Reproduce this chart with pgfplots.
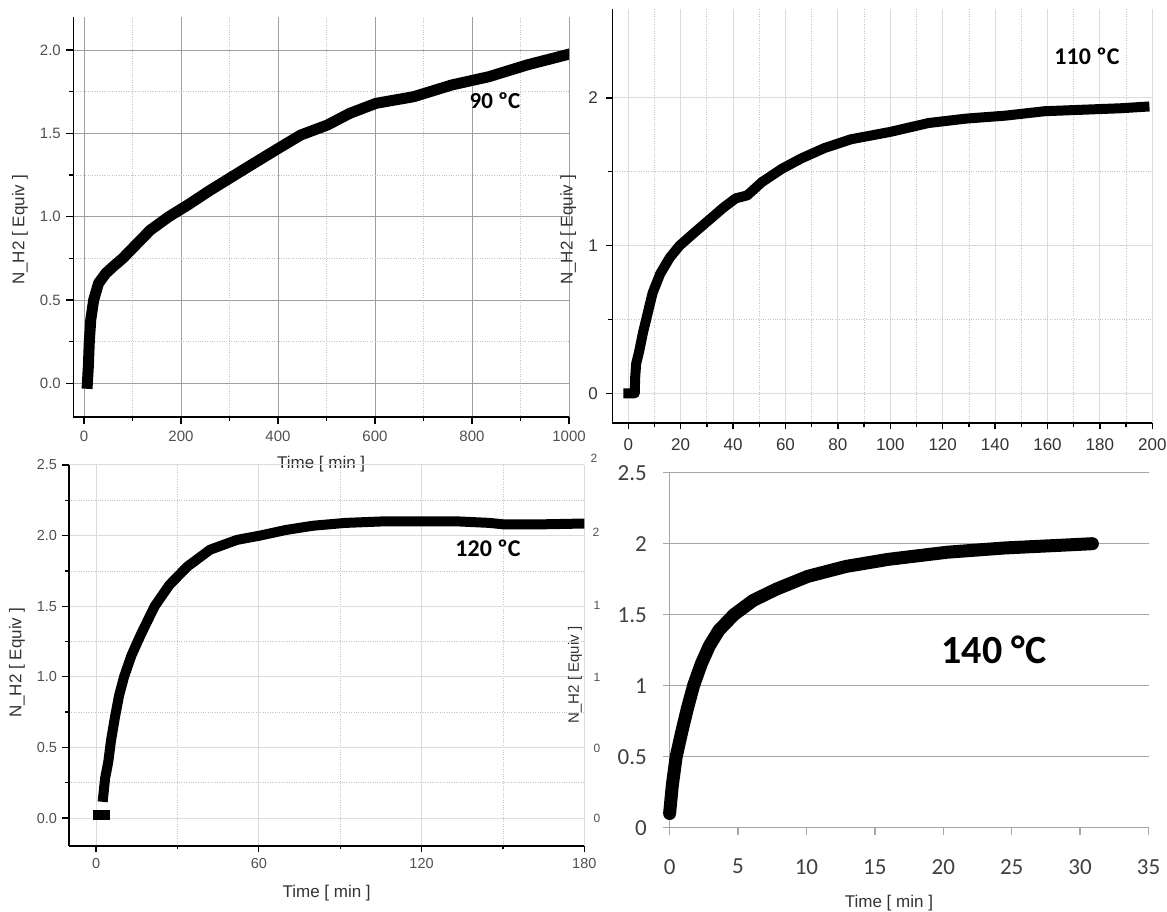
\documentclass[border=0pt]{standalone}
\usepackage{fontspec}
\setmainfont{Liberation Sans}
\newfontfamily\calibri{Carlito}
\usepackage{pgfplots}
\pgfplotsset{compat=1.18}
\definecolor{tickgray}{HTML}{505050}
\definecolor{labgray}{HTML}{333333}
\definecolor{gridA}{HTML}{A0A0A0}
\definecolor{gridB}{HTML}{DCDCDC}
\definecolor{minorg}{HTML}{C4C4C4}
\definecolor{xlgray}{HTML}{A6A6A6}
\definecolor{xltext}{HTML}{404040}
\newcommand{\fs}[1]{\fontsize{#1bp}{#1bp}\selectfont}
\pgfplotsset{
  panelbase/.style={scale only axis, anchor=south west,
    axis x line*=bottom, axis y line*=left,
    /pgf/number format/assume math mode=true,
    /pgf/number format/1000 sep={},
    tick align=outside},
  onedec/.style={/pgf/number format/fixed, /pgf/number format/fixed zerofill, /pgf/number format/precision=1},
}
\begin{document}
\begin{tikzpicture}
\path[use as bounding box] (0bp,0bp) rectangle (1167bp,912bp);

% ---------------- Panel 1 : 90 C ----------------
\begin{axis}[panelbase,
  at={(73.3bp,494.7bp)}, width=495.7bp, height=400.6bp,
  xmin=-22, xmax=1000, ymin=-0.204, ymax=2.2,
  axis line style={line width=1.6bp, black},
  xtick={0,200,400,600,800,1000}, ytick={0,0.5,1,1.5,2},
  minor x tick num=1, minor y tick num=1,
  major tick length=7bp, minor tick length=4bp,
  every tick/.style={line width=1.3bp, black},
  grid=both, major grid style={gridA, line width=0.9bp},
  minor grid style={minorg, dotted, line width=0.8bp},
  yticklabel style={onedec, anchor=east, inner sep=0pt, xshift=-5.3bp, font=\fs{15}, text=tickgray},
  xticklabel style={anchor=north, inner sep=0pt, yshift=-6.3bp, font=\fs{15}, text=tickgray},
  xlabel={Time [ min ]}, ylabel={N\_H2 [ Equiv ]},
  label style={font=\fs{17}, text=labgray},
  xlabel style={at={(axis description cs:0.5,0)}, anchor=center, yshift=-46.7bp},
  ylabel style={at={(axis description cs:0,0.4676)}, anchor=center, yshift=53.3bp},
]
\addplot[black, line width=11bp, line join=round, line cap=rect] coordinates {
(7,0) (9,0.1) (11,0.25) (14,0.38) (20,0.5) (30,0.6) (45,0.66) (60,0.7) (80,0.75)
(100,0.81) (137,0.92) (175,1.0) (214,1.07) (261,1.16) (300,1.23) (339,1.3)
(401,1.41) (447,1.49) (502,1.55) (548,1.62) (602,1.68) (680,1.72) (758,1.79)
(835,1.84) (913,1.91) (993,1.97)};
\end{axis}
\node[font=\calibri\bfseries\fs{23}, text=black] at (495bp,811bp) {90 ºC};

% ---------------- Panel 2 : 110 C ----------------
\begin{axis}[panelbase,
  at={(612.3bp,488.7bp)}, width=540bp, height=414bp,
  xmin=-6.1, xmax=200, ymin=-0.203, ymax=2.6,
  axis line style={line width=1.6bp, black},
  xtick={0,20,...,200}, ytick={0,1,2},
  minor x tick num=1, minor y tick num=1,
  major tick length=6bp, minor tick length=4bp,
  every tick/.style={line width=1.3bp, black},
  grid=both, major grid style={gridB, line width=1bp},
  minor grid style={minorg, dotted, line width=0.8bp},
  yticklabel style={anchor=east, inner sep=0pt, xshift=-8.3bp, font=\fs{17}, text=labgray},
  xticklabel style={anchor=north, inner sep=0pt, yshift=-9.5bp, font=\fs{17}, text=labgray},
  ylabel={N\_H2 [ Equiv ]},
  label style={font=\fs{17}, text=labgray},
  ylabel style={at={(axis description cs:0,0.467)}, anchor=center, yshift=44bp},
]
\addplot[black, line width=10bp, line join=round, line cap=rect] coordinates {
(0,0) (2.5,0) (2.6,0.1) (3,0.2) (4.1,0.28) (5.6,0.41) (7.1,0.52) (9.3,0.68)
(12.2,0.81) (15.9,0.92) (19.6,1.0) (24.7,1.08) (30.6,1.17) (36.5,1.26) (41,1.32)
(45.4,1.34) (51,1.43) (58.6,1.52) (66,1.59) (74.8,1.66) (85,1.72) (100,1.77)
(114.6,1.83) (129,1.86) (144,1.88) (159,1.91) (173.5,1.92) (188,1.93) (197,1.94)};
\end{axis}
\node[font=\calibri\bfseries\fs{24}, text=black] at (1087bp,856bp) {110 ºC};

% ---------------- Panel 3 : 120 C ----------------
\begin{axis}[panelbase,
  at={(69bp,66.3bp)}, width=515.3bp, height=380.7bp,
  xmin=-10, xmax=180, ymin=-0.196, ymax=2.5,
  axis line style={line width=1.6bp, black},
  xtick={0,60,120,180}, ytick={0,0.5,1,1.5,2,2.5},
  minor x tick num=1, minor y tick num=1,
  major tick length=6.5bp, minor tick length=3.5bp,
  every tick/.style={line width=1.3bp, black},
  grid=both, major grid style={gridB, line width=1bp},
  minor grid style={minorg, dotted, line width=0.8bp},
  yticklabel style={onedec, anchor=east, inner sep=0pt, xshift=-5.3bp, font=\fs{14.5}, text=tickgray},
  xticklabel style={anchor=north, inner sep=0pt, yshift=-6.4bp, font=\fs{14.5}, text=tickgray},
  xlabel={Time [ min ]}, ylabel={N\_H2 [ Equiv ]},
  label style={font=\fs{17}, text=labgray},
  xlabel style={at={(axis description cs:0.5,0)}, anchor=center, yshift=-47.3bp},
  ylabel style={at={(axis description cs:0,0.48)}, anchor=center, yshift=52bp},
]
\addplot[black, line width=10bp, line join=round, line cap=rect] coordinates {
(0.8,0.02) (3.2,0.02)};
\addplot[black, line width=10bp, line join=round, line cap=rect] coordinates {
(2.6,0.15) (3.3,0.28) (4.5,0.4) (5.5,0.55) (7,0.72) (8.5,0.87) (10.3,1.0)
(13,1.15) (16.5,1.3) (21.6,1.5) (27,1.65) (33.6,1.78) (42,1.9) (52,1.97)
(60.4,2.0) (70,2.04) (80,2.07) (92,2.09) (105,2.1) (120,2.1) (134,2.1)
(145,2.09) (150,2.08) (165,2.08) (178.5,2.085)};
\end{axis}
\node[font=\calibri\bfseries\fs{24}, text=black] at (488bp,364bp) {120 ºC};

% fragments of a chart lying underneath
\node[rotate=90, font=\fs{15}, text=labgray] at (575bp,237bp) {N\_H2 [ Equiv ]};
\begin{scope}[every node/.style={font=\fs{12}, text=tickgray}]
\node at (596bp,380bp) {2};
\node at (597bp,307bp) {1};
\node at (597bp,235bp) {1};
\node at (597bp,164bp) {0};
\node at (597bp,94bp) {0};
\node at (594bp,454bp) {2};
\end{scope}

% ---------------- Panel 4 : 140 C (spreadsheet style) ----------------
\begin{axis}[panelbase,
  at={(669.6bp,84.3bp)}, width=478.9bp, height=355bp,
  xmin=0, xmax=35, ymin=0, ymax=2.5, clip=false,
  axis line style={line width=1.3bp, xlgray},
  xtick={0,5,...,35}, ytick={0,0.5,1,1.5,2,2.5},
  major tick length=7bp,
  every tick/.style={line width=1.3bp, xlgray},
  ymajorgrids, major grid style={xlgray, line width=1.3bp},
  yticklabel style={anchor=east, inner sep=0pt, xshift=-15.6bp, font=\calibri\fs{23}, text=xltext},
  xticklabel style={anchor=north, inner sep=0pt, yshift=-24.3bp, font=\calibri\fs{23}, text=xltext},
  xlabel={Time [ min ]},
  label style={font=\fs{17}, text=labgray},
  xlabel style={at={(axis description cs:0.458,0)}, anchor=center, yshift=-75.3bp},
]
\addplot[black, line width=13bp, line join=round, line cap=round] coordinates {
(0,0.1) (0.2,0.3) (0.48,0.5) (0.9,0.68) (1.3,0.84) (1.75,1.0) (2.3,1.15) (2.9,1.28)
(3.6,1.39) (4.7,1.5) (6.1,1.6) (7.8,1.68) (10.1,1.77) (12.9,1.84) (16,1.89)
(20.3,1.94) (24.5,1.97) (28.8,1.99) (30.9,2.0)};
\end{axis}
\node[font=\calibri\bfseries\fs{40}, text=black] at (994bp,262bp) {140 °C};
\end{tikzpicture}
\end{document}
